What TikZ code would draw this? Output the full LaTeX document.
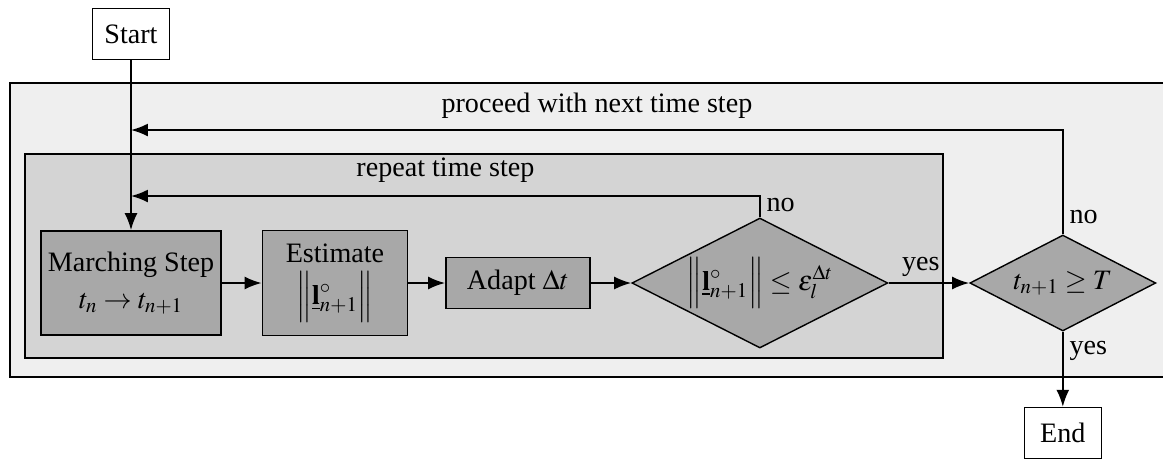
\documentclass[tikz,border=0pt]{standalone}
\usepackage{mathptmx}
\usepackage{fontspec}
\setmainfont{Liberation Serif}
\usetikzlibrary{arrows.meta,shapes.geometric}
\definecolor{boxgray}{HTML}{A8A8A8}
\definecolor{innergray}{HTML}{D4D4D4}
\definecolor{outergray}{HTML}{EFEFEF}

\begin{document}
\begin{tikzpicture}[x=0.02cm, y=-0.02cm,
block/.style = {draw, fill=boxgray, rectangle, line width=1pt, align=center},
term/.style = {draw, fill=white, rectangle, line width=0.8pt, minimum width=1.54cm, minimum height=1.02cm},
decision/.style = {draw, fill=boxgray, diamond, aspect=2, inner sep=0pt, line width=0.8pt},
frame/.style = {draw, line width=1pt},
line/.style = {line width=1pt},
node distance = 4cm,
>={Latex[length=3.4mm,width=2.6mm]},
font=\fontsize{16}{19}\selectfont
]

    \useasboundingbox (0,0) rectangle (1163,461);

    % the two loops
    \draw [frame, fill=outergray] (10,83) rectangle (1200,377);
    \draw [frame, fill=innergray] (25,154) rectangle (943,358);

    \node [block, minimum width=3.6cm, minimum height=2.08cm] (march) at (131,283) {Marching Step\\[2pt] $t_n \rightarrow t_{n+1}$};
    \node [block, right of=march, node distance=4.08cm, minimum width=2.9cm, minimum height=2.1cm] (est) {Estimate\\[5pt] $\Big\|\underline{\mathbf{l}}^{\circ}_{n+1}\Big\|$};
    \node [block, right of=est, node distance=3.66cm, minimum width=2.88cm, minimum height=1.02cm] (adapt) {Adapt $\Delta t$};
    \node [decision, right of=adapt, node distance=4.84cm, minimum width=5.12cm, minimum height=2.6cm] (err) {$\Big\|\underline{\mathbf{l}}^{\circ}_{n+1}\Big\| \le \varepsilon_l^{\Delta t}$};
    \node [decision, right of=err, node distance=6.06cm, minimum width=3.72cm, minimum height=1.92cm] (time) {$t_{n+1} \ge T$};

    \node [term, above of=march, node distance=4.98cm] (start) {Start};
    \node [term, below of=time, node distance=3cm] (end) {End};

    \coordinate (rep) at (131,196);
    \coordinate (nxt) at (131,130);

    \draw [->, line] (start) -- (march);
    \draw [->, line] (march) -- (est);
    \draw [->, line] (est) -- (adapt);
    \draw [->, line] (adapt) -- (err);
    \draw [->, line] (err) -- node[above, pos=0.4]{yes} (time);
    \draw [->, line] (time) -- node[right, pos=0.25]{yes} (end);

    \draw [->, line] (err.north) |- node[right, pos=0.3]{no} node[above=4pt, pos=0.75]{repeat time step} (rep);
    \draw [->, line] (time.north) |- node[right, pos=0.085]{no} node[above=3pt, pos=0.75]{proceed with next time step} (nxt);

\end{tikzpicture}
\end{document}
